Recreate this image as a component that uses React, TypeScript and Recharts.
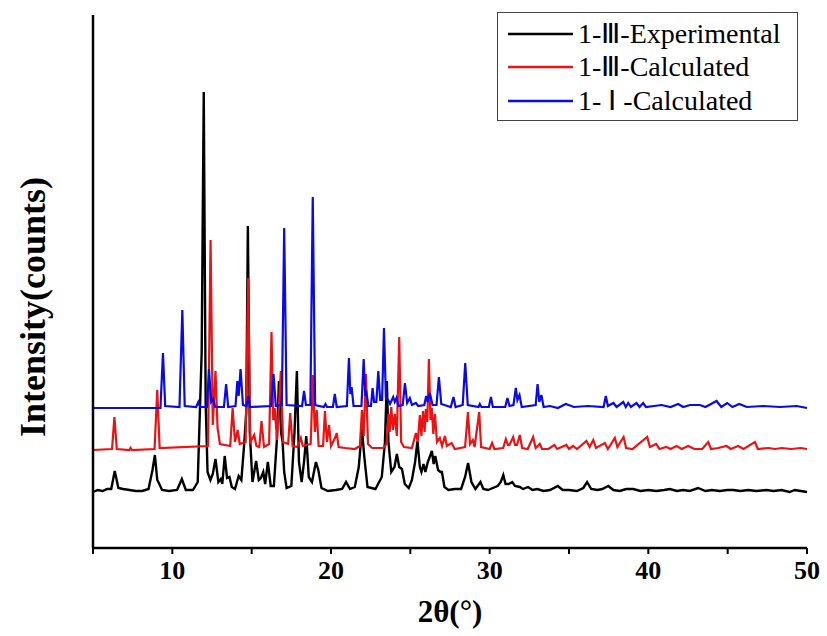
import { Label, Legend, Line, LineChart, XAxis, YAxis } from "recharts";

// [2θ (°), intensity above the pattern's own baseline]
const expIII: [number, number][] = [
  [5, 0], [5.3, 2], [5.6, 1], [5.9, 3], [6.15, 3], [6.37, 21], [6.6, 4], [6.9, 3], [7.3, 2], [7.7, 1],
  [8.1, 1], [8.5, 3], [8.75, 22], [8.9, 37], [9.05, 12], [9.18, 8], [9.35, 2], [9.8, 1], [10.3, 2], [10.6, 13],
  [10.85, 2], [11.3, 2], [11.6, 10], [11.85, 140], [11.98, 400], [12.1, 90], [12.22, 20], [12.4, 12], [12.55, 18], [12.72, 33],
  [12.9, 10], [13.05, 13], [13.15, 8], [13.3, 36], [13.45, 14], [13.6, 15], [13.75, 5], [13.95, 3], [14.18, 16], [14.35, 12],
  [14.52, 46], [14.66, 80], [14.76, 266], [14.88, 60], [15.05, 10], [15.28, 31], [15.45, 12], [15.58, 14], [15.73, 20], [15.85, 8],
  [16.02, 30], [16.2, 6], [16.4, 6], [16.58, 50], [16.72, 111], [16.85, 60], [16.95, 50], [17.05, 20], [17.2, 4], [17.5, 6],
  [17.7, 60], [17.85, 121], [17.98, 30], [18.15, 10], [18.3, 30], [18.44, 56], [18.6, 15], [18.8, 10], [19.05, 30], [19.2, 22],
  [19.4, 4], [19.8, 1], [20.3, 2], [20.7, 3], [20.95, 10], [21.2, 3], [21.5, 5], [21.75, 25], [21.95, 63], [22.1, 35],
  [22.3, 5], [22.8, 3], [23.2, 15], [23.4, 50], [23.52, 111], [23.62, 50], [23.8, 20], [24.0, 25], [24.15, 38], [24.3, 25],
  [24.47, 23], [24.65, 8], [24.9, 4], [25.1, 12], [25.3, 30], [25.45, 51], [25.6, 25], [25.7, 20], [25.83, 28], [25.95, 20],
  [26.1, 30], [26.36, 41], [26.47, 28], [26.57, 36], [26.75, 22], [26.9, 20], [26.99, 20], [27.15, 5], [27.4, 2], [27.8, 3],
  [28.2, 3], [28.45, 15], [28.64, 29], [28.85, 10], [29.1, 3], [29.42, 10], [29.6, 3], [29.9, 2], [30.2, 4], [30.5, 6],
  [30.7, 10], [30.86, 17], [31.0, 8], [31.2, 8], [31.42, 10], [31.6, 6], [31.9, 5], [32.1, 3], [32.42, 5], [32.7, 2],
  [33.0, 3], [33.4, 1], [33.8, 2], [34.3, 6], [34.6, 2], [35.0, 2], [35.5, 1], [35.9, 4], [36.14, 10], [36.4, 3],
  [36.8, 2], [37.1, 3], [37.47, 6], [37.8, 2], [38.2, 1], [38.6, 3], [39.05, 3], [39.5, 1], [40.0, 2], [40.5, 1],
  [41.0, 2], [41.36, 3], [41.8, 1], [42.2, 2], [42.6, 1], [43.14, 4], [43.6, 1], [44.0, 2], [44.5, 1], [45.0, 2],
  [45.35, 2], [45.8, 1], [46.3, 2], [46.8, 1], [47.44, 2], [47.9, 1], [48.4, 2], [48.9, 0], [49.23, 2], [49.6, 1],
  [50, 0],
];

const calcIII: [number, number][] = [
  [5, 0], [6.2, 1], [6.35, 33], [6.5, 1], [7.3, 0], [7.37, 2], [7.45, 0], [8.88, 1], [9.05, 60], [9.2, 2],
  [12.25, 4], [12.41, 210], [12.55, 25], [12.72, 79], [12.85, 22], [13.0, 6], [13.65, 4], [13.8, 42], [13.95, 8], [14.12, 20],
  [14.25, 6], [14.62, 8], [14.78, 172], [14.92, 8], [15.16, 15], [15.3, 4], [15.48, 3], [15.62, 29], [15.78, 3], [16.1, 6],
  [16.25, 118], [16.36, 30], [16.45, 42], [16.6, 10], [16.84, 79], [16.98, 8], [17.3, 6], [17.43, 37], [17.58, 4], [17.88, 3],
  [18.1, 12], [18.22, 4], [18.72, 6], [18.86, 75], [18.98, 18], [19.1, 40], [19.22, 4], [19.5, 4], [19.62, 39], [19.74, 8],
  [19.88, 25], [20.0, 4], [20.25, 12], [20.36, 17], [20.48, 3], [20.9, 2], [21.5, 1], [21.82, 4], [21.95, 40], [22.06, 14],
  [22.2, 76], [22.33, 6], [22.6, 2], [23.3, 2], [23.5, 6], [23.62, 36], [23.7, 18], [23.8, 43], [23.9, 20], [24.02, 36],
  [24.15, 14], [24.3, 113], [24.42, 8], [24.6, 3], [25.1, 2], [25.35, 17], [25.47, 8], [25.6, 35], [25.7, 14], [25.8, 39],
  [25.9, 18], [25.98, 41], [26.07, 28], [26.17, 91], [26.27, 30], [26.35, 42], [26.45, 16], [26.55, 36], [26.68, 8], [26.86, 12],
  [27.0, 4], [27.18, 14], [27.3, 4], [27.6, 7], [27.8, 1], [28.45, 3], [28.63, 38], [28.76, 6], [28.94, 10], [29.05, 3],
  [29.34, 38], [29.46, 3], [30.0, 1], [30.15, 7], [30.3, 1], [30.85, 2], [31.02, 11], [31.15, 5], [31.25, 5], [31.48, 13],
  [31.6, 5], [31.72, 5], [31.9, 15], [32.05, 2], [32.4, 1], [32.74, 13], [32.9, 2], [33.16, 6], [33.3, 1], [33.7, 1],
  [34.08, 5], [34.25, 1], [34.84, 5], [35.0, 1], [35.26, 4], [35.5, 1], [36.1, 9], [36.3, 3], [36.53, 10], [36.7, 2],
  [37.26, 7], [37.45, 1], [37.89, 12], [38.05, 3], [38.44, 13], [38.6, 2], [39.0, 1], [39.93, 13], [40.1, 3], [40.5, 6],
  [40.7, 1], [41.13, 3], [41.4, 1], [41.78, 4], [42.1, 1], [42.51, 4], [42.9, 1], [43.4, 1], [43.77, 8], [43.95, 1],
  [44.4, 2], [44.93, 4], [45.2, 1], [45.66, 4], [46.0, 1], [46.72, 8], [46.9, 1], [47.56, 2], [48.0, 1], [48.4, 2],
  [49.0, 1], [49.6, 2], [50, 1],
];

const calcI: [number, number][] = [
  [5, 0], [9.25, 0], [9.41, 55], [9.55, 2], [10.45, 1], [10.63, 98], [10.78, 2], [11.5, 1], [11.64, 6], [11.75, 1],
  [12.18, 1], [12.31, 39], [12.45, 6], [12.58, 9], [12.7, 1], [13.25, 1], [13.39, 24], [13.52, 1], [13.98, 2], [14.1, 27],
  [14.18, 12], [14.3, 39], [14.45, 3], [14.68, 2], [14.79, 12], [14.9, 1], [16.22, 2], [16.38, 34], [16.52, 2], [16.9, 3],
  [17.05, 180], [17.2, 3], [18.18, 2], [18.3, 17], [18.42, 3], [18.7, 3], [18.85, 211], [19.0, 3], [19.55, 1], [19.65, 4],
  [19.75, 1], [20.12, 1], [20.24, 14], [20.36, 1], [21.0, 2], [21.13, 50], [21.22, 14], [21.3, 21], [21.42, 2], [21.92, 2],
  [22.06, 49], [22.16, 12], [22.24, 15], [22.36, 2], [22.52, 2], [22.62, 20], [22.72, 6], [22.86, 6], [22.98, 37], [23.1, 8],
  [23.22, 8], [23.34, 80], [23.46, 10], [23.6, 8], [23.72, 4], [23.92, 11], [24.02, 6], [24.13, 10], [24.25, 2], [24.52, 3],
  [24.66, 25], [24.8, 5], [24.97, 10], [25.1, 3], [25.35, 5], [25.5, 2], [25.88, 3], [26.0, 12], [26.1, 6], [26.23, 15],
  [26.4, 3], [26.65, 3], [26.8, 31], [26.95, 4], [27.55, 1], [27.72, 11], [27.85, 1], [28.3, 3], [28.46, 45], [28.62, 3],
  [29.3, 1], [29.38, 4], [29.48, 1], [29.95, 1], [30.08, 11], [30.2, 1], [30.98, 1], [31.12, 10], [31.25, 2], [31.5, 3],
  [31.65, 20], [31.75, 8], [31.88, 13], [32.02, 1], [32.9, 3], [33.02, 24], [33.13, 6], [33.26, 13], [33.4, 1], [33.8, 2],
  [34.3, 0], [34.8, 4], [35.3, 1], [36.2, 2], [37.18, 1], [37.32, 12], [37.45, 2], [37.8, 5], [38.0, 1], [38.42, 6],
  [38.58, 1], [38.73, 5], [38.9, 1], [39.25, 5], [39.45, 1], [39.67, 5], [39.85, 1], [40.83, 3], [41.4, 1], [41.88, 4],
  [42.2, 1], [42.62, 3], [43.25, 3], [43.6, 1], [44.3, 7], [44.6, 1], [44.97, 5], [45.3, 1], [45.73, 4], [46.2, 1],
  [47.24, 2], [48.3, 1], [49.34, 2], [50, 0],
];

const xTicks = [5, 10, 15, 20, 25, 30, 35, 40, 45, 50];

const serif = '"Liberation Serif", "Times New Roman", serif';

// patterns are stacked: each one is lifted by its own shift
const series = [
  { name: "1-Ⅲ-Experimental", points: expIII, shift: 56, color: "#000000", width: 2.4 },
  { name: "1-Ⅲ-Calculated", points: calcIII, shift: 98, color: "#ee1111", width: 2.2 },
  { name: "1- Ⅰ -Calculated", points: calcI, shift: 140, color: "#0a0ae6", width: 2.2 },
];

const toRows = (points: [number, number][], shift: number) =>
  points.map(([x, y]) => ({ x, y: y + shift }));

const LegendBox = () => (
  <div
    style={{
      border: "1px solid #444",
      background: "#fff",
      padding: "4px 0 2px 0",
      fontFamily: serif,
      fontSize: 28,
      color: "#000",
      width: 301,
      boxSizing: "border-box",
    }}
  >
    {series.map((s) => (
      <div key={s.name} style={{ display: "flex", alignItems: "center", height: 33.5 }}>
        <svg width={76} height={6} style={{ flex: "none" }}>
          <line x1={10} x2={75} y1={3} y2={3} stroke={s.color} strokeWidth={2.5} />
        </svg>
        <span style={{ marginLeft: 4, lineHeight: 1, whiteSpace: "nowrap" }}>{s.name}</span>
      </div>
    ))}
  </div>
);

const YTitle = () => (
  <text
    x={33}
    y={307}
    transform="rotate(-90 33 307)"
    textAnchor="middle"
    dominantBaseline="central"
    fontFamily={serif}
    fontWeight="bold"
    fontSize={36}
    fill="#000"
  >
    Intensity(counts)
  </text>
);

const XTitle = () => (
  <text x={450} y={622} textAnchor="middle" fontFamily={serif} fontWeight="bold" fontSize={31} fill="#000">
    2θ(°)
  </text>
);

export default function App() {
  return (
    <div style={{ position: "absolute", left: 0, top: 0, background: "#fff" }}>
      <LineChart width={827} height={636} margin={{ top: 15, right: 20, left: 0, bottom: 0 }}>
        <XAxis
          type="number"
          dataKey="x"
          domain={[5, 50]}
          ticks={xTicks}
          interval={0}
          height={88}
          tickSize={6}
          tickMargin={7}
          tickFormatter={(v: number) => (v % 10 === 0 ? String(v) : "")}
          tick={{ fill: "#000", fontFamily: serif, fontWeight: "bold", fontSize: 26 }}
          axisLine={{ stroke: "#000", strokeWidth: 2.5 }}
          tickLine={{ stroke: "#000", strokeWidth: 2 }}
        >
          <Label content={<XTitle />} />
        </XAxis>
        <YAxis
          type="number"
          domain={[0, 533]}
          width={93}
          tick={false}
          tickLine={false}
          axisLine={{ stroke: "#000", strokeWidth: 2.5 }}
        >
          <Label content={<YTitle />} />
        </YAxis>
        <Legend
          layout="vertical"
          align="center"
          verticalAlign="middle"
          content={<LegendBox />}
          wrapperStyle={{ top: 12, left: 497, width: 301 }}
        />
        {series.map((s) => (
          <Line
            key={s.name}
            name={s.name}
            data={toRows(s.points, s.shift)}
            dataKey="y"
            type="linear"
            stroke={s.color}
            strokeWidth={s.width}
            dot={false}
            activeDot={false}
            legendType="line"
            isAnimationActive={false}
          />
        ))}
      </LineChart>
    </div>
  );
}
